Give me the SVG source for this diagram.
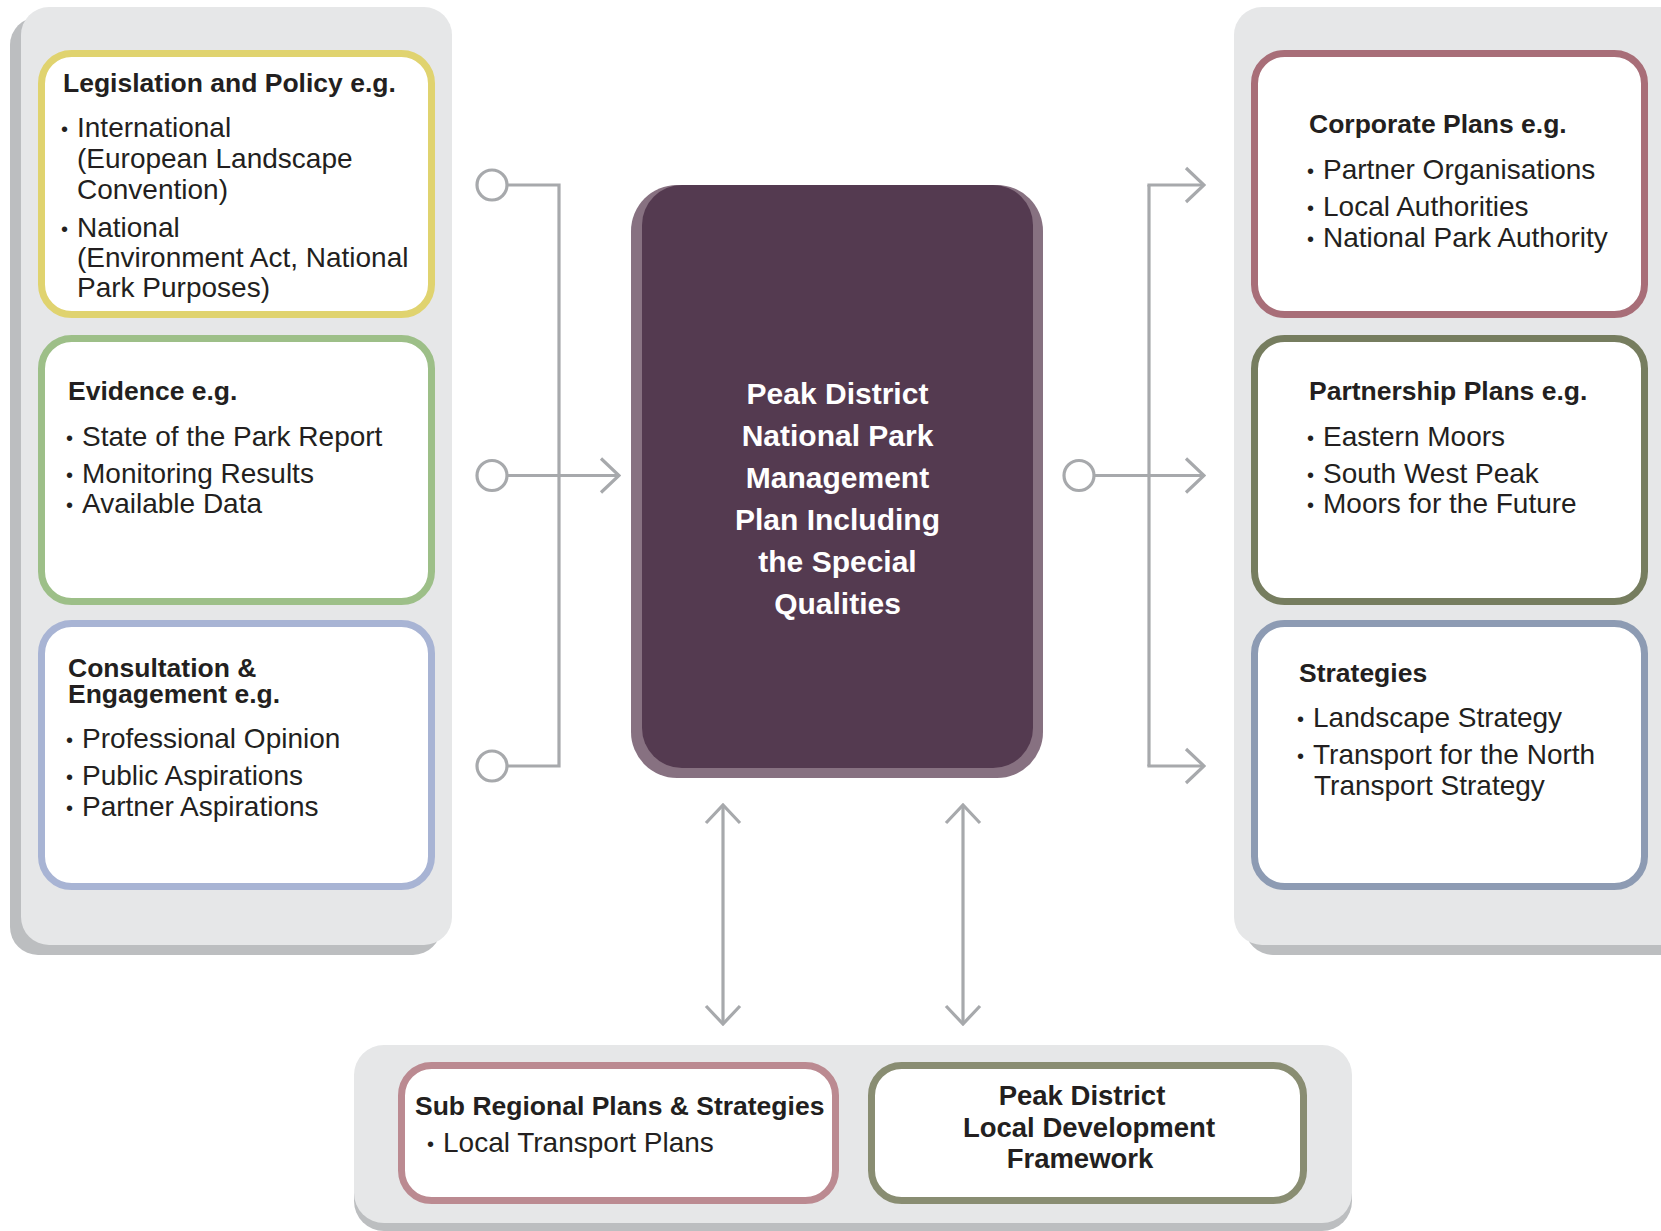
<svg xmlns="http://www.w3.org/2000/svg" width="1661" height="1231" viewBox="0 0 1661 1231">
<defs>
<style>
.panel{fill:#e6e7e8}
.shadow{fill:#bcbec0}
.box{fill:#ffffff;stroke-width:7}
.t{font-family:"Liberation Sans",Arial,Helvetica,sans-serif;fill:#231f20}
.h{font-size:26.5px;font-weight:bold}
.h2{font-size:27.5px;font-weight:bold}
.r{font-size:28px}
.bul{font-size:20px}
.c{font-family:"Liberation Sans",Arial,Helvetica,sans-serif;fill:#ffffff;font-size:30px;font-weight:bold;text-anchor:middle}
.conn{fill:none;stroke:#a7a9ac;stroke-width:3.2}
.dot{fill:#ffffff;stroke:#a7a9ac;stroke-width:3.2}
</style>
<marker id="chev" viewBox="0 0 22 38" refX="20" refY="19" markerWidth="22" markerHeight="38" markerUnits="userSpaceOnUse" orient="auto-start-reverse">
<path d="M2 2 L20 19 L2 36" fill="none" stroke="#a7a9ac" stroke-width="3.2"/>
</marker>
</defs>
<rect width="1661" height="1231" fill="#ffffff"/>

<g id="left-panel">
<rect class="shadow" x="10" y="17" width="431" height="938" rx="28"/>
<rect class="panel" x="21" y="7" width="431" height="938" rx="28"/>
</g>
<g id="right-panel">
<rect class="shadow" x="1245" y="17" width="460" height="938" rx="28"/>
<rect class="panel" x="1234" y="7" width="460" height="938" rx="28"/>
</g>
<g id="bottom-panel">
<rect class="shadow" x="354" y="1053" width="998" height="178" rx="30"/>
<rect class="panel" x="354" y="1045" width="998" height="178" rx="30"/>
</g>

<g id="connectors">
<path class="conn" d="M507 185 H559 V766 H507"/>
<path class="conn" d="M507 475.5 H619" marker-end="url(#chev)"/>
<circle class="dot" cx="492" cy="185" r="15"/>
<circle class="dot" cx="492" cy="475.5" r="15"/>
<circle class="dot" cx="492" cy="766" r="15"/>
<path class="conn" d="M1149 185 V766"/>
<path class="conn" d="M1147.4 185 H1204" marker-end="url(#chev)"/>
<path class="conn" d="M1147.4 766 H1204" marker-end="url(#chev)"/>
<path class="conn" d="M1094 475.5 H1204" marker-end="url(#chev)"/>
<circle class="dot" cx="1079" cy="475.5" r="15"/>
<path class="conn" d="M723 805 V1024" marker-start="url(#chev)" marker-end="url(#chev)"/>
<path class="conn" d="M963 805 V1024" marker-start="url(#chev)" marker-end="url(#chev)"/>
</g>

<g id="legislation">
<rect class="box" x="41.5" y="53.5" width="390" height="261" rx="30" stroke="#e0d36f"/>
<text class="t h" x="63" y="92">Legislation and Policy e.g.</text>
<text class="t r"><tspan class="bul" x="61" y="136">•</tspan><tspan x="77" y="137">International</tspan></text>
<text class="t r" x="77" y="168">(European Landscape</text>
<text class="t r" x="77" y="199">Convention)</text>
<text class="t r"><tspan class="bul" x="61" y="236">•</tspan><tspan x="77" y="237">National</tspan></text>
<text class="t r" x="77" y="267">(Environment Act, National</text>
<text class="t r" x="77" y="297">Park Purposes)</text>
</g>

<g id="evidence">
<rect class="box" x="41.5" y="338.5" width="390" height="263" rx="30" stroke="#9dbf88"/>
<text class="t h" x="68" y="400">Evidence e.g.</text>
<text class="t r"><tspan class="bul" x="66" y="445">•</tspan><tspan x="82" y="446">State of the Park Report</tspan></text>
<text class="t r"><tspan class="bul" x="66" y="482">•</tspan><tspan x="82" y="483">Monitoring Results</tspan></text>
<text class="t r"><tspan class="bul" x="66" y="512">•</tspan><tspan x="82" y="513">Available Data</tspan></text>
</g>

<g id="consultation">
<rect class="box" x="41.5" y="623.5" width="390" height="263" rx="30" stroke="#a8b4d4"/>
<text class="t h" x="68" y="677">Consultation &amp;</text>
<text class="t h" x="68" y="703">Engagement e.g.</text>
<text class="t r"><tspan class="bul" x="66" y="747">•</tspan><tspan x="82" y="748">Professional Opinion</tspan></text>
<text class="t r"><tspan class="bul" x="66" y="784">•</tspan><tspan x="82" y="785">Public Aspirations</tspan></text>
<text class="t r"><tspan class="bul" x="66" y="815">•</tspan><tspan x="82" y="816">Partner Aspirations</tspan></text>
</g>

<g id="management-plan">
<rect x="631" y="185" width="412" height="593" rx="46" fill="#877181"/>
<rect x="642" y="185" width="391" height="583" rx="40" fill="#543a50"/>
<text class="c" x="837.5" y="404">Peak District</text>
<text class="c" x="837.5" y="446">National Park</text>
<text class="c" x="837.5" y="488">Management</text>
<text class="c" x="837.5" y="530">Plan Including</text>
<text class="c" x="837.5" y="572">the Special</text>
<text class="c" x="837.5" y="614">Qualities</text>
</g>

<g id="corporate">
<rect class="box" x="1254.5" y="53.5" width="390" height="261" rx="30" stroke="#a86e78"/>
<text class="t h" x="1309" y="133">Corporate Plans e.g.</text>
<text class="t r"><tspan class="bul" x="1307" y="178">•</tspan><tspan x="1323" y="179">Partner Organisations</tspan></text>
<text class="t r"><tspan class="bul" x="1307" y="215">•</tspan><tspan x="1323" y="216">Local Authorities</tspan></text>
<text class="t r"><tspan class="bul" x="1307" y="246">•</tspan><tspan x="1323" y="247">National Park Authority</tspan></text>
</g>

<g id="partnership">
<rect class="box" x="1254.5" y="338.5" width="390" height="263" rx="30" stroke="#767d5f"/>
<text class="t h" x="1309" y="400">Partnership Plans e.g.</text>
<text class="t r"><tspan class="bul" x="1307" y="445">•</tspan><tspan x="1323" y="446">Eastern Moors</tspan></text>
<text class="t r"><tspan class="bul" x="1307" y="482">•</tspan><tspan x="1323" y="483">South West Peak</tspan></text>
<text class="t r"><tspan class="bul" x="1307" y="512">•</tspan><tspan x="1323" y="513">Moors for the Future</tspan></text>
</g>

<g id="strategies">
<rect class="box" x="1254.5" y="623.5" width="390" height="263" rx="30" stroke="#8d9bb3"/>
<text class="t h" x="1299" y="682">Strategies</text>
<text class="t r"><tspan class="bul" x="1297" y="726">•</tspan><tspan x="1313" y="727">Landscape Strategy</tspan></text>
<text class="t r"><tspan class="bul" x="1297" y="763">•</tspan><tspan x="1313" y="764">Transport for the North</tspan></text>
<text class="t r" x="1314" y="795">Transport Strategy</text>
</g>

<g id="sub-regional">
<rect class="box" x="401.5" y="1065.5" width="434" height="135" rx="30" stroke="#bb8a91"/>
<text class="t h" x="415" y="1115">Sub Regional Plans &amp; Strategies</text>
<text class="t r"><tspan class="bul" x="427" y="1151">•</tspan><tspan x="443" y="1152">Local Transport Plans</tspan></text>
</g>

<g id="local-development">
<rect class="box" x="871.5" y="1065.5" width="432" height="135" rx="30" stroke="#898d72"/>
<text class="t h2" text-anchor="middle" x="1082" y="1105">Peak District</text>
<text class="t h2" text-anchor="middle" x="1089" y="1137">Local Development</text>
<text class="t h2" text-anchor="middle" x="1080" y="1168">Framework</text>
</g>
</svg>
